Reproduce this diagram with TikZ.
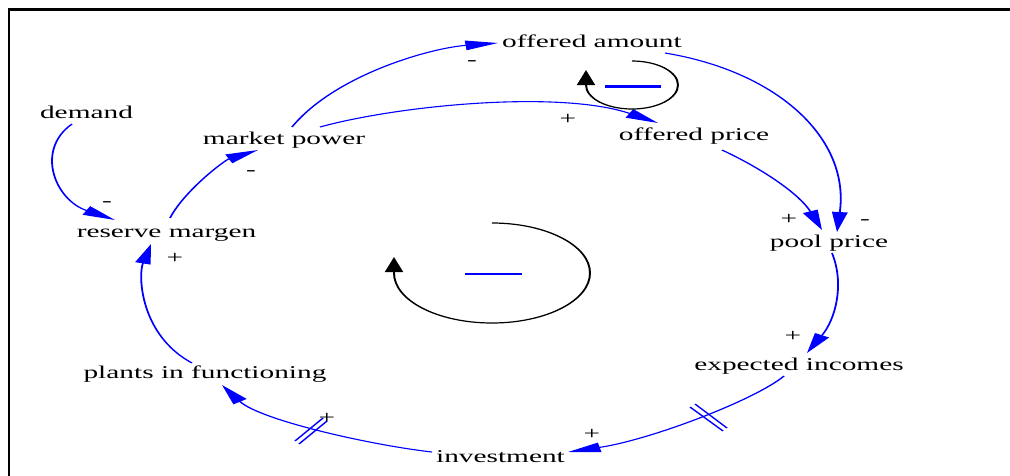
\documentclass[tikz,border=0pt]{standalone}
\usepackage{fontspec}
\setmainfont{Liberation Serif}
\usetikzlibrary{arrows.meta,calc}
\definecolor{cldblue}{RGB}{0,0,255}
\tikzset{
  var/.style={font=\fontsize{18}{20}\selectfont, inner sep=0pt, anchor=base, text=black},
  sgn/.style={font=\fontsize{18}{20}\selectfont, inner sep=0pt, anchor=base, text=black},
  link/.style={draw=cldblue, line width=1.1pt, -{Triangle[length=20pt,width=9.5pt]}},
  loopc/.style={draw=black, line width=1.2pt, -{Triangle[length=15pt,width=11pt]}},
  loopm/.style={draw=cldblue},
  delay/.style={draw=cldblue, line width=1.1pt},
  frame/.style={draw=black, line width=2.9pt, line join=miter}
}
\begin{document}
\begin{tikzpicture}[x=1pt,y=-1pt]
\useasboundingbox (0,0) rectangle (1010,475);
\fill[white] (0,0) rectangle (1010,475);
\draw[frame] (9,480) -- (9,9.5) -- (1015,9.5);
\begin{scope}[transform canvas={xscale=1.63}, x=0.6135pt]
  % variables
  \node[var] (oa)  at (592,47)    {offered amount};
  \node[var] (op)  at (694,140)   {offered price};
  \node[var] (mp)  at (284,144)   {market power};
  \node[var] (dem) at (86.5,118)  {demand};
  \node[var] (rm)  at (166.5,237) {reserve margen};
  \node[var] (pp)  at (829,247)   {pool price};
  \node[var] (ei)  at (799,370)   {expected incomes};
  \node[var] (pif) at (205,378)   {plants in functioning};
  \node[var] (inv) at (500.5,462) {investment};
  % links
  \draw[link] ($(mp.base)+(8,-17)$) .. controls (335,75) and (430,48) .. ($(oa.base)+(-94,-4)$);
  \draw[link] ($(mp.base)+(36,-17)$) .. controls (400,105) and (560,90) .. ($(op.base)+(-36,-17)$);
  \draw[link] ($(oa.base)+(73,6)$) .. controls (780,72) and (850,140) .. ($(pp.base)+(8,-15)$);
  \draw[link] ($(op.base)+(28,10)$) .. controls (765,170) and (800,195) .. ($(pp.base)+(-7,-17)$);
  \draw[link] ($(pp.base)+(3,6)$) .. controls (845,285) and (835,320) .. ($(ei.base)+(8,-17)$);
  \draw[link] ($(ei.base)+(-15,6)$) .. controls (755,400) and (650,440) .. ($(inv.base)+(67.5,-10)$);
  \draw[link] ($(inv.base)+(-68.5,-10)$) .. controls (370,445) and (260,420) .. ($(pif.base)+(17,7)$);
  \draw[link] ($(pif.base)+(-13,-15)$) .. controls (140,335) and (138,275) .. ($(rm.base)+(-15.5,7)$);
  \draw[link] ($(rm.base)+(3.5,-19)$) .. controls (185,190) and (225,160) .. ($(mp.base)+(-26,6)$);
  \draw[link] ($(dem.base)+(-14.5,6)$) .. controls (35,150) and (55,200) .. ($(rm.base)+(-51.5,-17)$);
  % delay marks
  \draw[delay] (690,407) -- (723,431);
  \draw[delay] (695,404) -- (727,428);
  \draw[delay] (295,441) -- (323,418);
  \draw[delay] (299,444) -- (327,421);
  % polarity signs
  \node[sgn] (s1)  at (472,65)  {-};
  \node[sgn] (s2)  at (568,124) {+};
  \node[sgn] (s3)  at (865,224) {-};
  \node[sgn] (s4)  at (789,224) {+};
  \node[sgn] (s5)  at (793,341) {+};
  \node[sgn] (s6)  at (592,439) {+};
  \node[sgn] (s7)  at (327,423) {+};
  \node[sgn] (s8)  at (175,263) {+};
  \node[sgn] (s9)  at (251,175) {-};
  \node[sgn] (s10) at (107,206) {-};
  % loop symbols
  \draw[loopc] (632,61) .. controls (657.4,61) and (678,71.7) .. (678,85)
     .. controls (678,98.3) and (657.4,109) .. (632,109)
     .. controls (606.6,109) and (586,98.3) .. (586,85) -- (586,70);
  \draw[loopm, line width=3pt] (605,86) -- (661,86);
  \draw[loopc] (492,223) .. controls (546.1,223) and (590,245.4) .. (590,273)
     .. controls (590,300.6) and (546.1,323) .. (492,323)
     .. controls (437.9,323) and (394,300.6) .. (394,273) -- (394,257);
  \draw[loopm, line width=2.3pt] (465,274) -- (522,274);
\end{scope}
\end{tikzpicture}
\end{document}
